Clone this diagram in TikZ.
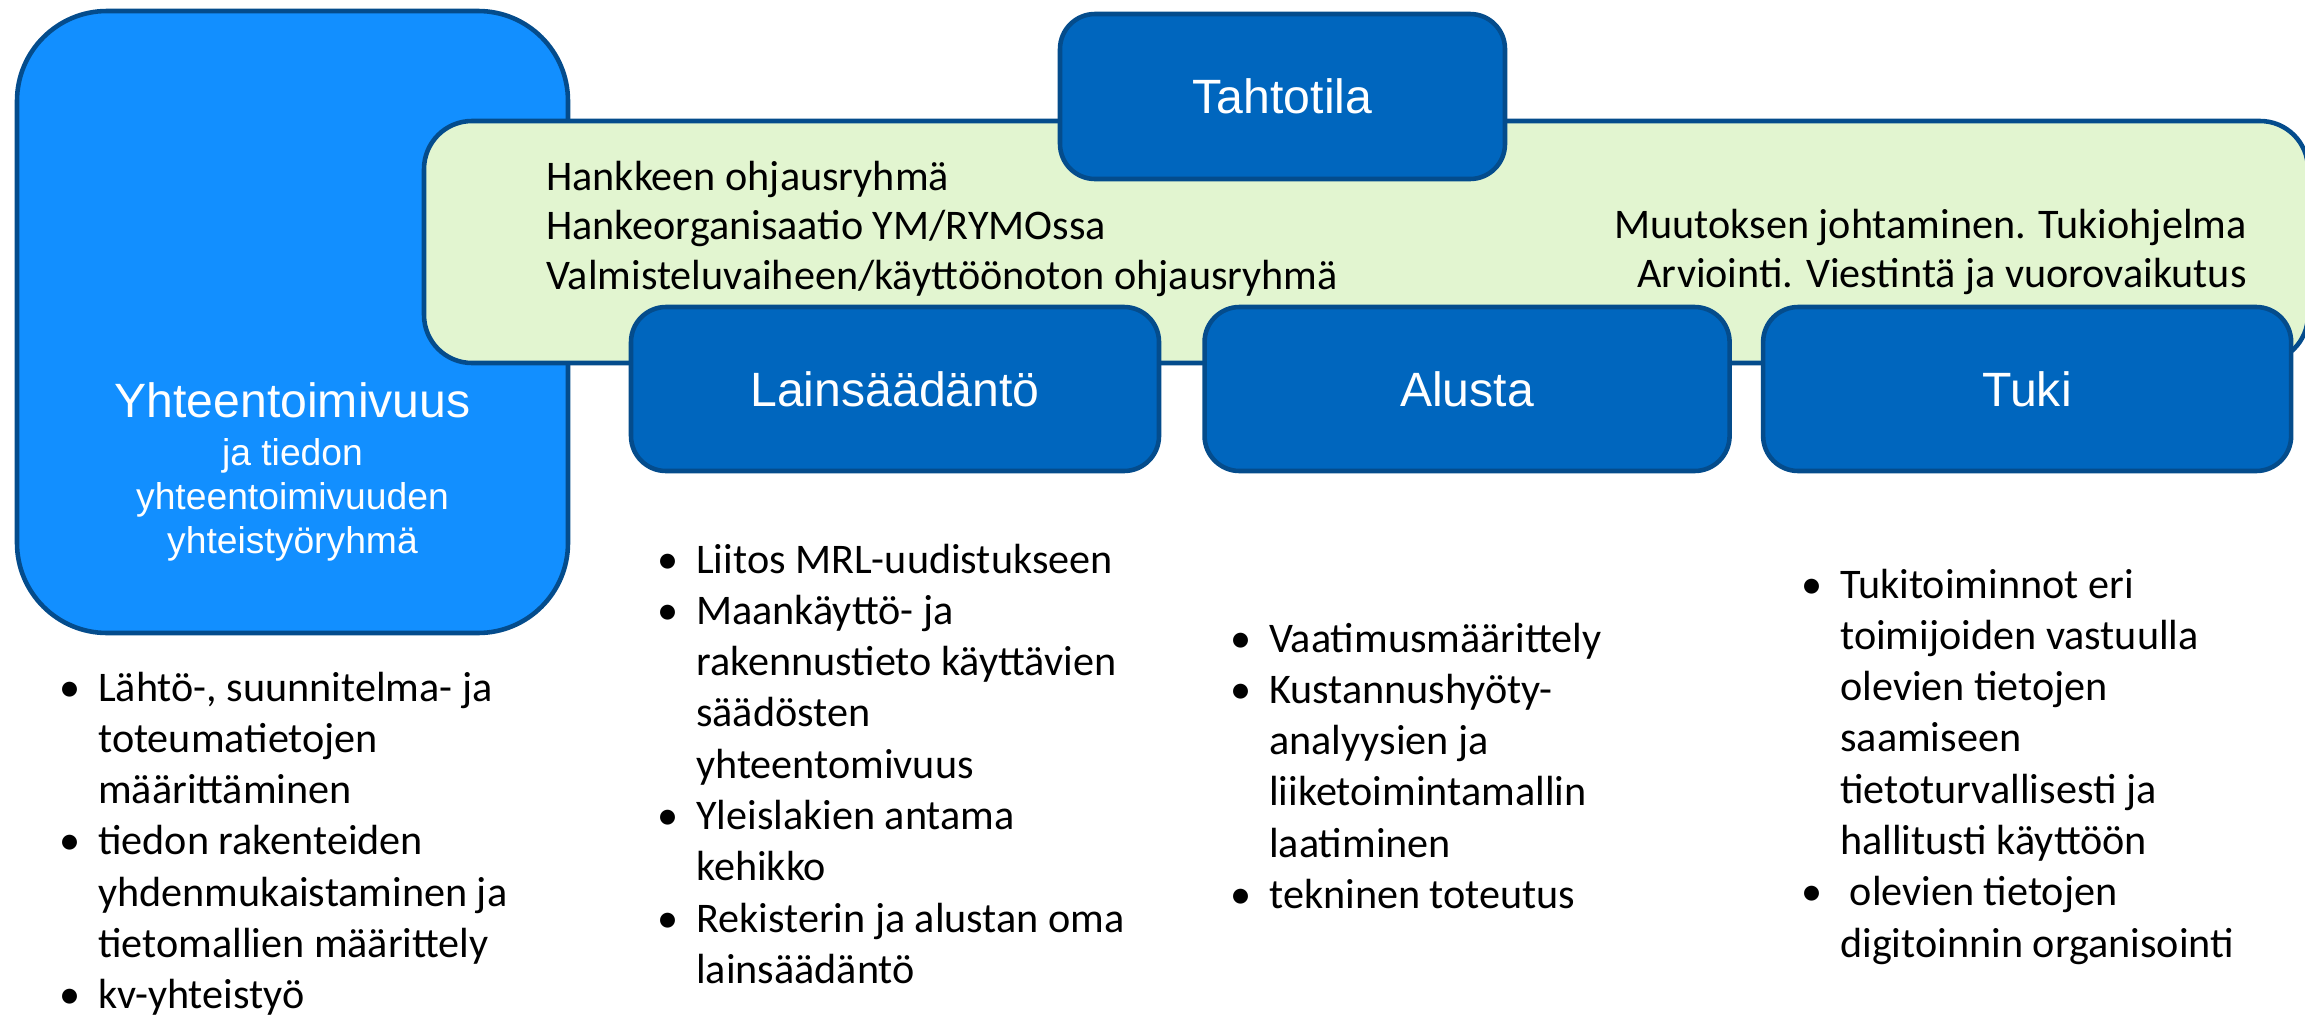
\documentclass[tikz,border=0pt]{standalone}
\usepackage{fontspec}
\setmainfont{Carlito}
\newfontfamily\headfont{Liberation Sans}
\usepackage{tikz}
\usetikzlibrary{positioning}

\definecolor{bigblue}{RGB}{18,143,255}
\definecolor{boxblue}{RGB}{0,102,190}
\definecolor{edgeblue}{RGB}{4,76,140}
\definecolor{bandgreen}{RGB}{226,245,208}

\begin{document}
\begin{tikzpicture}[x=0.1mm,y=-0.1mm,line width=1.3pt]
	\tikzstyle{panel} = [draw=edgeblue,fill=boxblue,rounded corners=3.5mm,inner sep=0pt,text=white,font=\headfont\fontsize{13.7}{16}\selectfont]
	\tikzstyle{lowpanel} = [panel,minimum height=16.4mm]
	\tikzstyle{bullets} = [inner sep=0pt,anchor=base west,font=\fontsize{12}{14.6}\selectfont]
	\tikzstyle{bandtext} = [inner sep=0pt,font=\fontsize{12}{14.2}\selectfont]
	\useasboundingbox (0,0) rectangle (2305,1018);
	\clip (0,0) rectangle (2305,1018);
	% boxes
	\node[draw=edgeblue,fill=bigblue,rounded corners=9mm,minimum width=55.1mm,minimum height=62.2mm] (yht) at (292.5,322) {};
	\node[draw=edgeblue,fill=bandgreen,rounded corners=4.8mm,minimum width=188.4mm,minimum height=24.2mm] (band) at (1366,242) {};
	\node[panel,minimum width=44.5mm,minimum height=16.5mm] (tahto) at (1282.5,96.5) {Tahtotila};
	\node[lowpanel,minimum width=52.8mm] (laki) at (895,389) {Lainsäädäntö};
	\node[lowpanel,minimum width=52.5mm] (alusta) [right=4.1mm of laki] {Alusta};
	\node[lowpanel,minimum width=52.8mm] (tuki) [right=2.9mm of alusta] {Tuki};
	% texts
	\node[inner sep=0pt,anchor=base,text=white,font=\headfont\fontsize{10.6}{12.5}\selectfont] (yhtlabel) at (292.5,417) {\begin{tabular}[t]{@{}c@{}}
		{\fontsize{13.7}{16}\selectfont Yhteentoimivuus}\\[1.2pt]
		ja tiedon\\
		yhteentoimivuuden\\
		yhteistyöryhmä
	\end{tabular}};
	\node[bandtext,anchor=base west] (ohjaus) at (544,190) {\begin{tabular}[t]{@{}l@{}}
		Hankkeen ohjausryhmä\\
		Hankeorganisaatio YM/RYMOssa\\
		Valmisteluvaiheen/käyttöönoton ohjausryhmä
	\end{tabular}};
	\node[bandtext,anchor=base east] (muutos) at (2249,238) {\begin{tabular}[t]{@{}r@{}}
		Muutoksen johtaminen. Tukiohjelma\\
		Arviointi. Viestintä ja vuorovaikutus
	\end{tabular}};
	% bullet lists
	\node[bullets] (yhtlist) at (57.5,701) {\begin{tabular}[t]{@{}p{3.85mm}@{}l@{}}
		\textbullet & Lähtö-, suunnitelma- ja\\
		& toteumatietojen\\
		& määrittäminen\\
		\textbullet & tiedon rakenteiden\\
		& yhdenmukaistaminen ja\\
		& tietomallien määrittely\\
		\textbullet & kv-yhteistyö
	\end{tabular}};
	\node[bullets] (lakilist) at (655.5,573) {\begin{tabular}[t]{@{}p{3.85mm}@{}l@{}}
		\textbullet & Liitos MRL-uudistukseen\\
		\textbullet & Maankäyttö- ja\\
		& rakennustieto käyttävien\\
		& säädösten\\
		& yhteentomivuus\\
		\textbullet & Yleislakien antama\\
		& kehikko\\
		\textbullet & Rekisterin ja alustan oma\\
		& lainsäädäntö
	\end{tabular}};
	\node[bullets] (alustalist) at (1228.5,652) {\begin{tabular}[t]{@{}p{3.85mm}@{}l@{}}
		\textbullet & Vaatimusmäärittely\\
		\textbullet & Kustannushyöty-\\
		& analyysien ja\\
		& liiketoimintamallin\\
		& laatiminen\\
		\textbullet & tekninen toteutus
	\end{tabular}};
	\node[bullets] (tukilist) at (1799.5,598) {\begin{tabular}[t]{@{}p{3.85mm}@{}l@{}}
		\textbullet & Tukitoiminnot eri\\
		& toimijoiden vastuulla\\
		& olevien tietojen\\
		& saamiseen\\
		& tietoturvallisesti ja\\
		& hallitusti käyttöön\\
		\textbullet & \ olevien tietojen\\
		& digitoinnin organisointi
	\end{tabular}};
\end{tikzpicture}
\end{document}
